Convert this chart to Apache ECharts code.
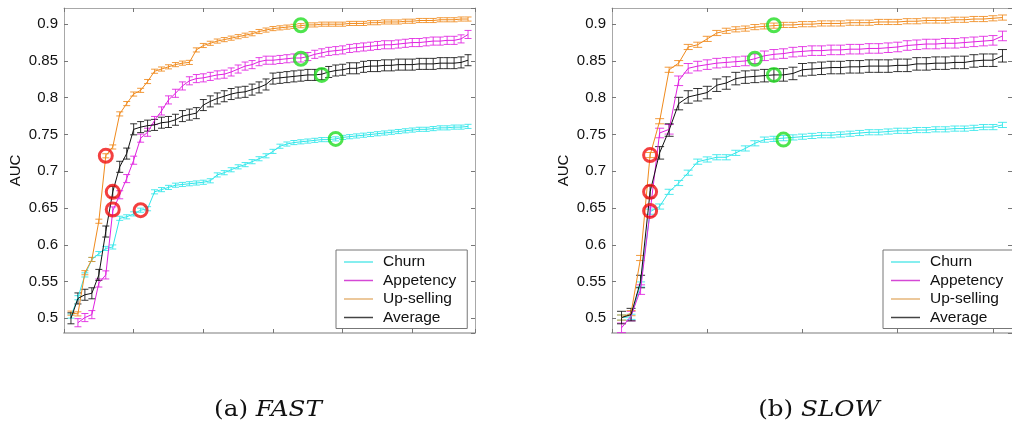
<!DOCTYPE html>
<html>
<head>
<meta charset="utf-8">
<script src="https://cdn.jsdelivr.net/npm/echarts@6/dist/echarts.min.js"></script>
<style>
html,body{margin:0;padding:0;background:#fff;}
#chart{width:1012px;height:421px;}
</style>
</head>
<body>
<div id="chart"></div>
<script>
// series names / legend order
var names = ['Churn', 'Appetency', 'Up-selling', 'Average'];
var lineColors = ['#2fe6ea', '#e020e0', '#f08a1c', '#111111'];
var legendColors = ['#5ee8ea', '#d548d5', '#e6b67a', '#444444'];

// (a) FAST  -- AUC at steps 1..58
var churnFast = [0.503, 0.528, 0.559, 0.580, 0.588, 0.595, 0.597, 0.636, 0.638, 0.642,
	0.647, 0.649, 0.672, 0.675, 0.678, 0.681, 0.682, 0.683, 0.684, 0.685,
	0.687, 0.695, 0.698, 0.702, 0.706, 0.709, 0.713, 0.717, 0.721, 0.727,
	0.734, 0.737, 0.739, 0.740, 0.741, 0.742, 0.743, 0.743, 0.744, 0.746,
	0.747, 0.748, 0.749, 0.750, 0.751, 0.752, 0.753, 0.754, 0.755, 0.756,
	0.757, 0.757, 0.758, 0.759, 0.759, 0.760, 0.760, 0.761];
var appetencyFast = [null, 0.494, 0.501, 0.505, 0.548, 0.559, 0.646, 0.668, 0.690, 0.715,
	0.745, 0.753, 0.769, 0.782, 0.797, 0.806, 0.816, 0.823, 0.826, 0.827,
	0.829, 0.831, 0.832, 0.835, 0.839, 0.843, 0.845, 0.849, 0.851, 0.851,
	0.852, 0.853, 0.854, 0.854, 0.856, 0.859, 0.861, 0.863, 0.864, 0.865,
	0.867, 0.868, 0.869, 0.870, 0.871, 0.872, 0.872, 0.873, 0.874, 0.875,
	0.875, 0.876, 0.877, 0.877, 0.878, 0.878, 0.880, 0.886];
var upsellFast = [0.507, 0.506, 0.562, 0.580, 0.632, 0.721, 0.733, 0.778, 0.792, 0.805,
	0.810, 0.822, 0.836, 0.839, 0.842, 0.845, 0.847, 0.848, 0.865, 0.871,
	0.874, 0.877, 0.879, 0.881, 0.883, 0.885, 0.887, 0.890, 0.892, 0.894,
	0.895, 0.896, 0.897, 0.898, 0.899, 0.899, 0.900, 0.900, 0.900, 0.900,
	0.901, 0.901, 0.901, 0.902, 0.902, 0.903, 0.903, 0.903, 0.904, 0.904,
	0.905, 0.905, 0.905, 0.906, 0.906, 0.906, 0.907, 0.907];
var averageFast = [0.500, 0.527, 0.532, 0.534, 0.559, 0.618, 0.672, 0.706, 0.724, 0.757,
	0.760, 0.762, 0.763, 0.766, 0.767, 0.770, 0.775, 0.777, 0.779, 0.790,
	0.795, 0.799, 0.802, 0.805, 0.807, 0.808, 0.811, 0.814, 0.818, 0.826,
	0.827, 0.828, 0.829, 0.830, 0.831, 0.831, 0.832, 0.835, 0.837, 0.838,
	0.840, 0.840, 0.842, 0.843, 0.843, 0.844, 0.844, 0.845, 0.845, 0.845,
	0.846, 0.846, 0.846, 0.847, 0.847, 0.847, 0.848, 0.851];
var errFast = [0.0028, 0.0055, 0.0028, 0.0075];   // half height of error bars
var redFast = [[6, 0.721], [7, 0.672], [7, 0.648], [11, 0.647]];
var greenFast = [[34, 0.8985], [34, 0.853], [37, 0.831], [39, 0.744]];

// (b) SLOW  -- AUC at steps 1..41
var churnSlow = [0.501, 0.502, 0.546, 0.645, 0.652, 0.672, 0.684, 0.698, 0.713, 0.716,
	0.719, 0.719, 0.725, 0.731, 0.738, 0.743, 0.744, 0.745, 0.746, 0.747,
	0.748, 0.749, 0.749, 0.750, 0.751, 0.752, 0.753, 0.753, 0.754, 0.755,
	0.755, 0.756, 0.756, 0.757, 0.757, 0.758, 0.758, 0.759, 0.760, 0.760, 0.763];
var appetencySlow = [0.487, 0.503, 0.539, 0.645, 0.752, 0.757, 0.823, 0.840, 0.843, 0.845,
	0.847, 0.848, 0.849, 0.850, 0.853, 0.857, 0.859, 0.860, 0.862, 0.863,
	0.864, 0.864, 0.865, 0.865, 0.866, 0.866, 0.867, 0.867, 0.868, 0.869,
	0.871, 0.872, 0.873, 0.873, 0.874, 0.874, 0.875, 0.876, 0.877, 0.878, 0.884];
var upsellSlow = [0.501, 0.507, 0.582, 0.722, 0.768, 0.838, 0.847, 0.869, 0.872, 0.880,
	0.888, 0.891, 0.893, 0.894, 0.896, 0.897, 0.898, 0.899, 0.899, 0.900,
	0.900, 0.901, 0.901, 0.901, 0.902, 0.902, 0.902, 0.903, 0.903, 0.903,
	0.904, 0.904, 0.905, 0.905, 0.905, 0.906, 0.906, 0.907, 0.907, 0.908, 0.909];
var averageSlow = [0.501, 0.505, 0.550, 0.672, 0.725, 0.756, 0.792, 0.801, 0.804, 0.807,
	0.817, 0.820, 0.826, 0.828, 0.829, 0.830, 0.831, 0.831, 0.833, 0.838,
	0.839, 0.840, 0.841, 0.841, 0.842, 0.842, 0.843, 0.843, 0.843, 0.844,
	0.844, 0.846, 0.846, 0.847, 0.847, 0.848, 0.848, 0.850, 0.851, 0.851, 0.857];
var errSlow = [0.0035, 0.0065, 0.0035, 0.0085];
var redSlow = [[4, 0.722], [4, 0.672], [4, 0.646]];
var greenSlow = [[17, 0.8985], [15, 0.853], [17, 0.831], [18, 0.743]];

var yMin = 0.48, yMax = 0.922;
var fastMax = 59, slowMax = 42;

function toPoints(vals) {
	var out = [];
	vals.forEach(function (v, i) { if (v != null) out.push([i + 1, v]); });
	return out;
}

function plotSeries(ax, sets, errs, cap, red, green) {
	var list = [];
	sets.forEach(function (vals, k) {
		var pts = toPoints(vals);
		var col = lineColors[k];
		list.push({
			type: 'custom', name: names[k] + ' err', xAxisIndex: ax, yAxisIndex: ax,
			data: pts.map(function (p) { return [p[0], p[1] - errs[k], p[1] + errs[k]]; }),
			encode: { x: 0, y: [1, 2] }, silent: true, z: 2,
			renderItem: function (params, api) {
				var lo = api.coord([api.value(0), api.value(1)]);
				var hi = api.coord([api.value(0), api.value(2)]);
				var st = { stroke: col, lineWidth: 1, opacity: 0.85 };
				return { type: 'group', children: [
					{ type: 'line', shape: { x1: lo[0], y1: lo[1], x2: hi[0], y2: hi[1] }, style: st },
					{ type: 'line', shape: { x1: lo[0] - cap, y1: lo[1], x2: lo[0] + cap, y2: lo[1] }, style: st },
					{ type: 'line', shape: { x1: hi[0] - cap, y1: hi[1], x2: hi[0] + cap, y2: hi[1] }, style: st }
				] };
			}
		});
		list.push({
			type: 'line', name: names[k], xAxisIndex: ax, yAxisIndex: ax, data: pts,
			showSymbol: false, symbol: 'none', z: 3,
			lineStyle: { color: col, width: 1 }, itemStyle: { color: col }
		});
	});
	list.push({
		type: 'scatter', name: 'red', xAxisIndex: ax, yAxisIndex: ax, data: red, z: 5,
		symbolSize: 13, itemStyle: { color: 'rgba(0,0,0,0)', borderColor: '#f01010', borderWidth: 3 }
	});
	list.push({
		type: 'scatter', name: 'green', xAxisIndex: ax, yAxisIndex: ax, data: green, z: 5,
		symbolSize: 13, itemStyle: { color: 'rgba(0,0,0,0)', borderColor: '#22dd22', borderWidth: 3 }
	});
	return list;
}

function xAxes(grid, max, pos) {
	return {
		type: 'value', gridIndex: grid, position: pos, min: 0, max: max, interval: 10,
		axisLine: { show: true, onZero: false, lineStyle: { color: pos == 'bottom' ? '#bdbdbd' : '#a8a8a8', width: pos == 'bottom' ? 2 : 1 } },
		axisTick: { show: true, inside: true, length: 4, lineStyle: { color: '#777' } },
		axisLabel: { show: false }, splitLine: { show: false }
	};
}
function yAxes(grid, pos) {
	return {
		type: 'value', gridIndex: grid, position: pos, min: yMin, max: yMax, splitNumber: 9,
		name: pos == 'left' ? 'AUC' : '', nameLocation: 'middle', nameRotate: 90, nameGap: 41,
		nameTextStyle: { fontFamily: 'Liberation Sans', fontSize: 15, color: '#111' },
		axisLine: { show: true, onZero: false, lineStyle: { color: '#a8a8a8', width: 1 } },
		axisTick: { show: true, inside: true, length: 4, lineStyle: { color: '#777' } },
		axisLabel: { show: pos == 'left', showMinLabel: false, showMaxLabel: false, margin: 6,
			fontFamily: 'Liberation Sans', fontSize: 15, color: '#111' },
		splitLine: { show: false }
	};
}

function legendAt(left) {
	return {
		orient: 'vertical', left: left, top: 250, itemWidth: 29, itemHeight: 1.5, itemGap: 2.5,
		padding: [4, 11, 3, 8], backgroundColor: '#fff', borderColor: '#777', borderWidth: 1,
		selectedMode: false,
		textStyle: { fontFamily: 'Liberation Sans', fontSize: 15.5, color: '#111', lineHeight: 16, padding: [0, 0, 0, 5] },
		data: names.map(function (n, k) { return { name: n, icon: 'rect', itemStyle: { color: legendColors[k] } }; })
	};
}

var captionRich = {
	n: { fontFamily: 'DejaVu Serif', fontSize: 22, fill: '#111' },
	i: { fontFamily: 'DejaVu Serif', fontStyle: 'italic', fontSize: 22, fill: '#111' }
};

var chart = echarts.init(document.getElementById('chart'));
chart.setOption({
	animation: false,
	backgroundColor: '#fff',
	grid: [
		{ left: 64, top: 8, width: 411, height: 325 },
		{ left: 612, top: 8, width: 411, height: 325 }
	],
	xAxis: [xAxes(0, fastMax, 'bottom'), xAxes(0, fastMax, 'top'), xAxes(1, slowMax, 'bottom'), xAxes(1, slowMax, 'top')],
	yAxis: [yAxes(0, 'left'), yAxes(0, 'right'), yAxes(1, 'left'), yAxes(1, 'right')],
	legend: [legendAt(336), legendAt(883)],
	series: plotSeries(0, [churnFast, appetencyFast, upsellFast, averageFast], errFast, 3.5, redFast, greenFast)
		.concat(plotSeries(2, [churnSlow, appetencySlow, upsellSlow, averageSlow], errSlow, 4.5, redSlow, greenSlow)),
	graphic: [
		{ type: 'text', x: 268, y: 410, scaleX: 1.12, style: { text: '{n|(a) }{i|FAST}', align: 'center', verticalAlign: 'middle', rich: captionRich } },
		{ type: 'text', x: 819, y: 410, scaleX: 1.12, style: { text: '{n|(b) }{i|SLOW}', align: 'center', verticalAlign: 'middle', rich: captionRich } }
	]
});
</script>
</body>
</html>
